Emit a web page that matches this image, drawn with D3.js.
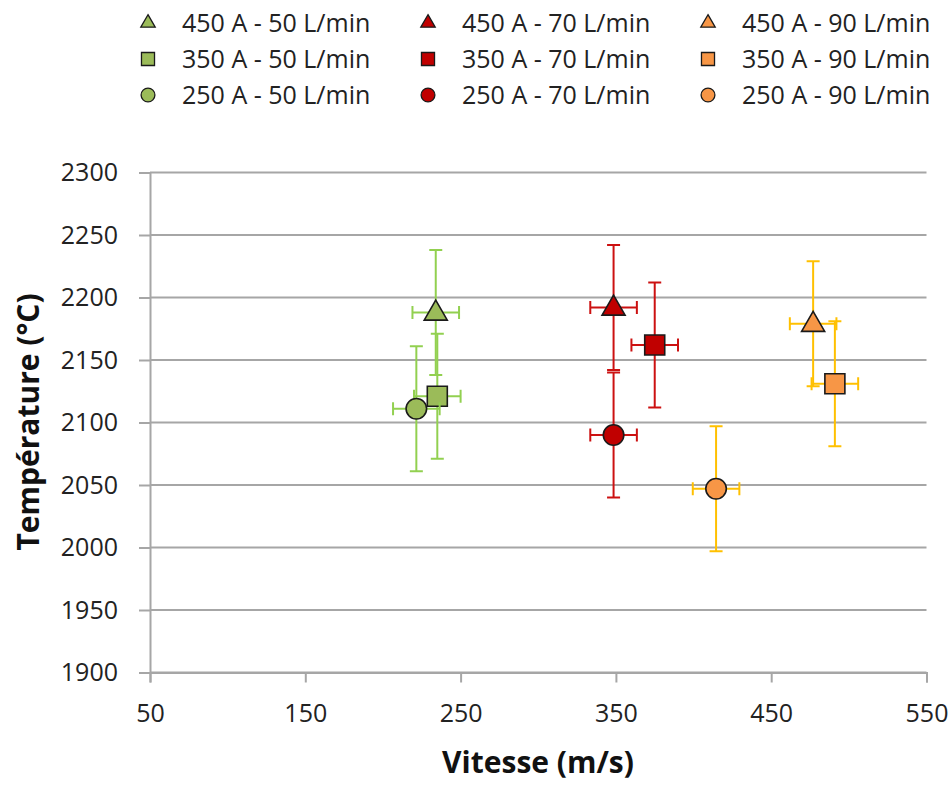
<!DOCTYPE html>
<html><head><meta charset="utf-8">
<script src="https://cdn.jsdelivr.net/npm/d3@7"></script>
<style>body{margin:0;background:#fff}svg{display:block}text{font-family:"Open Sans",sans-serif}</style>
</head><body><svg id="c" width="952" height="785"></svg>
<script>
const seriesNames = ["450 A - 50 L/min","450 A - 70 L/min","450 A - 90 L/min",
                     "350 A - 50 L/min","350 A - 70 L/min","350 A - 90 L/min",
                     "250 A - 50 L/min","250 A - 70 L/min","250 A - 90 L/min"];
const seriesShape = ["triangle","triangle","triangle","square","square","square","circle","circle","circle"];
const seriesFill  = ["#9BBB59","#C00000","#F79646","#9BBB59","#C00000","#F79646","#9BBB59","#C00000","#F79646"];
const seriesErrColor = ["#92D050","#CC1111","#FFC000","#92D050","#CC1111","#FFC000","#92D050","#CC1111","#FFC000"];
const vitesse     = [234, 348.5, 477, 235, 375, 491, 221.5, 348.5, 414.5];
const temperature = [2188, 2192, 2179, 2121, 2162, 2131, 2111, 2090, 2047];
const vitesseErr  = [15, 15, 15, 15, 15, 15, 15, 15, 15];
const tempErr     = [50, 50, 50, 50, 50, 50, 50, 50, 50];
const xTicks = [50,150,250,350,450,550];
const yTicks = [1900,1950,2000,2050,2100,2150,2200,2250,2300];

const svg = d3.select("#c");
const L=150, R=926.5, T=172.5, B=672.5;
const x = d3.scaleLinear().domain([50,550]).range([L,R]);
const y = d3.scaleLinear().domain([1900,2300]).range([B,T]);
const grey = "#A6A6A6";
const FS = 25;

// gridlines
svg.append("g").selectAll("line").data(yTicks).join("line")
  .attr("x1",L).attr("x2",R).attr("y1",d=>y(d)).attr("y2",d=>y(d))
  .attr("stroke",grey).attr("stroke-width",2);

// y axis
const ya = svg.append("g").attr("transform",`translate(${L},0)`)
  .call(d3.axisLeft(y).tickValues(yTicks).tickSize(11).tickPadding(21).tickFormat(d3.format("d")));
ya.select(".domain").attr("stroke",grey).attr("stroke-width",2);
ya.selectAll(".tick line").attr("stroke",grey).attr("stroke-width",2);
ya.selectAll("text").attr("font-size",FS).attr("fill","#222");

// x axis
const xa = svg.append("g").attr("transform",`translate(0,${B})`)
  .call(d3.axisBottom(x).tickValues(xTicks).tickSize(10).tickPadding(22).tickFormat(d3.format("d")));
xa.select(".domain").attr("stroke",grey).attr("stroke-width",2);
xa.selectAll(".tick line").attr("stroke",grey).attr("stroke-width",2);
xa.selectAll("text").attr("font-size",FS).attr("fill","#222");

// axis titles
svg.append("text").attr("x",538).attr("y",773).attr("text-anchor","middle")
  .attr("font-size",30).attr("font-weight","bold").attr("fill","#111").text("Vitesse (m/s)");
svg.append("text").attr("transform","translate(39,422) rotate(-90)").attr("text-anchor","middle")
  .attr("font-size",30).attr("font-weight","bold").attr("fill","#111").text("Température (°C)");

function shapePath(s, size){
  const t = s==="triangle"?d3.symbolTriangle:(s==="square"?d3.symbolSquare:d3.symbolCircle);
  return d3.symbol().type(t).size(size)();
}
const symSize = {triangle:230, square:400, circle:330};
const cap = 6.5;

const plot = svg.append("g");
seriesNames.forEach((n,i)=>{
  const g = plot.append("g");
  const cx = x(vitesse[i]), cy = y(temperature[i]);
  const c = seriesErrColor[i];
  const y1 = y(temperature[i]+tempErr[i]), y2 = y(temperature[i]-tempErr[i]);
  const x1 = x(vitesse[i]-vitesseErr[i]), x2 = x(vitesse[i]+vitesseErr[i]);
  const segs = [[cx,y1,cx,y2],[cx-cap,y1,cx+cap,y1],[cx-cap,y2,cx+cap,y2],
                [x1,cy,x2,cy],[x1,cy-cap,x1,cy+cap],[x2,cy-cap,x2,cy+cap]];
  g.selectAll("line").data(segs).join("line")
    .attr("x1",d=>d[0]).attr("y1",d=>d[1]).attr("x2",d=>d[2]).attr("y2",d=>d[3])
    .attr("stroke",c).attr("stroke-width",2);
  g.append("path").attr("d",shapePath(seriesShape[i],symSize[seriesShape[i]]))
    .attr("transform",`translate(${cx},${cy + (seriesShape[i]==="triangle"?1:0)})`)
    .attr("fill",seriesFill[i]).attr("stroke","#1a1a1a").attr("stroke-width",1.6);
});

// legend
const legX = [148,428,708], legY=[23,59,95];
const legShape = {triangle:90, square:170, circle:150};
seriesNames.forEach((n,i)=>{
  const col = i%3, row = Math.floor(i/3);
  const g = svg.append("g").attr("transform",`translate(${legX[col]},${legY[row]})`);
  g.append("path").attr("d",shapePath(seriesShape[i],legShape[seriesShape[i]]))
    .attr("fill",seriesFill[i]).attr("stroke","#1a1a1a").attr("stroke-width",1.3);
  g.append("text").attr("x",34).attr("y",0).attr("dy","0.35em").attr("font-size",FS)
    .attr("fill","#222").text(n);
});
</script></body></html>
